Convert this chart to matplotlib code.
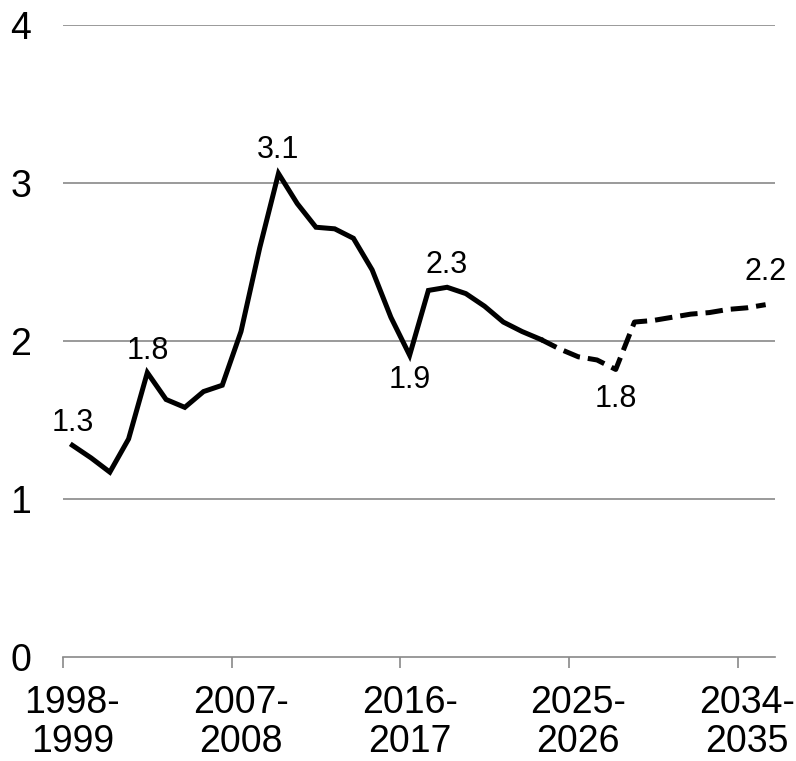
import matplotlib
matplotlib.use("Agg")
import matplotlib.pyplot as plt
import numpy as np

plt.rcParams['font.family'] = ['Liberation Sans', 'DejaVu Sans']

years = [f"{y}-{y+1}" for y in range(1998, 2036)]
actual = [1.34, 1.26, 1.17, 1.38, 1.80, 1.63, 1.58, 1.68, 1.72, 2.06,
          2.59, 3.06, 2.87, 2.72, 2.71, 2.65, 2.45, 2.15, 1.91, 2.32,
          2.34, 2.30, 2.22, 2.12, 2.06, 2.01]
projected = [2.01, 1.95, 1.90, 1.88, 1.82, 2.12, 2.13, 2.15, 2.17, 2.18,
             2.20, 2.21, 2.23]
tick_labels = ["1998-\n1999", "2007-\n2008", "2016-\n2017", "2025-\n2026", "2034-\n2035"]
label_idx = [0, 4, 11, 18, 20, 29, 37]
label_pos = ["above", "above", "above", "below", "above", "below", "above"]

values = actual + projected[1:]
n_act = len(actual)

fig = plt.figure(figsize=(7.96, 7.61), dpi=100)
ax = fig.add_axes([63/796, 1-657/761, (775-63)/796, (657-25)/761])

grid_c = '#898989'
for yv in [1, 2, 3, 4]:
    ax.axhline(yv, color=grid_c, lw=1.2, zorder=1)

x_act = np.arange(n_act)
x_proj = np.arange(n_act - 1, n_act - 1 + len(projected))
ax.plot(x_act, actual, color='black', lw=3.6, solid_joinstyle='miter', zorder=3)
ax.plot(x_proj, projected, color='black', lw=3.6, dashes=(3.5, 1.6), zorder=3)

for i, pos in zip(label_idx, label_pos):
    v = values[i]
    if pos == "above":
        off = 22 if i != 37 else 33
        if i == 11:
            off = 24
    else:
        off = -25 if i == 18 else -30
    ax.annotate(f"{v:.1f}", (i, v), xytext=(0, off*0.72), textcoords='offset points',
                ha='center', va='center', fontsize=22)

ax.set_xlim(-0.5, 37.5)
ax.set_ylim(0, 4)
ax.set_yticks([0, 1, 2, 3, 4])
ax.set_yticklabels(["0", "1", "2", "3", "4"], fontsize=27)
ax.tick_params(axis='y', length=0, pad=23)

ax.set_xticks([-0.5, 8.5, 17.5, 26.5, 35.5])
ax.set_xticklabels([])
ax.tick_params(axis='x', which='major', length=8, width=1.2, color=grid_c, direction='out')
ax.set_xticks([0, 9, 18, 27, 36], minor=True)
ax.set_xticklabels(tick_labels, minor=True, fontsize=27, linespacing=1.12)
ax.tick_params(axis='x', which='minor', length=0, pad=20)

for s in ['top', 'right', 'left']:
    ax.spines[s].set_visible(False)
ax.spines['bottom'].set_color(grid_c)
ax.spines['bottom'].set_linewidth(1.2)

fig.savefig("out.png", dpi=100)
